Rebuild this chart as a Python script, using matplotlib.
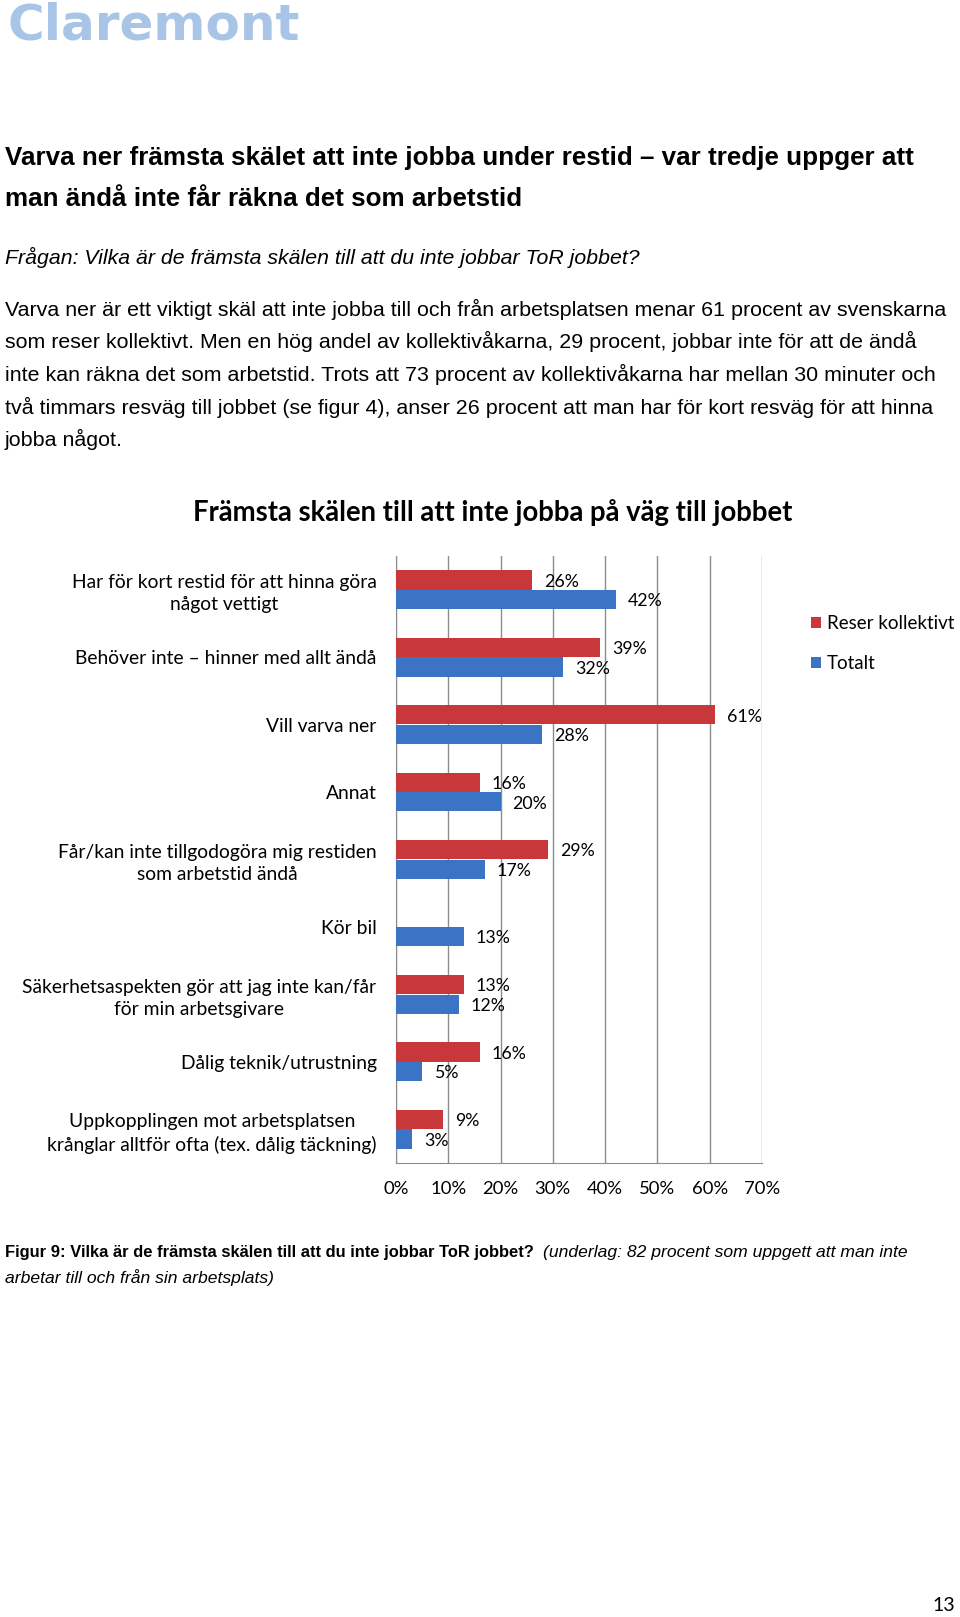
import numpy as np
import matplotlib.pyplot as plt

# Data
kategorier = [
    "Har för kort restid för att hinna göra\nnågot vettigt",
    "Behöver inte – hinner med allt ändå",
    "Vill varva ner",
    "Annat",
    "Får/kan inte tillgodogöra mig restiden\nsom arbetstid ändå",
    "Kör bil",
    "Säkerhetsaspekten gör att jag inte kan/får\nför min arbetsgivare",
    "Dålig teknik/utrustning",
    "Uppkopplingen mot arbetsplatsen\nkrånglar alltför ofta (tex. dålig täckning)",
]
reser_kollektivt = [26, 39, 61, 16, 29, np.nan, 13, 16, 9]
totalt = [42, 32, 28, 20, 17, 13, 12, 5, 3]
serier = ["Reser kollektivt", "Totalt"]
x_ticks = [0, 10, 20, 30, 40, 50, 60, 70]

RED = "#C8383B"
BLUE = "#3B74C5"
CHART_FONT = ["Lato", "DejaVu Sans"]
DOC_FONT = ["Liberation Sans", "DejaVu Sans"]

W, H = 960, 1617
fig = plt.figure(figsize=(W / 100, H / 100), dpi=100)


def fx(x):
    return x / W


def fy(y):
    return 1 - y / H


# Logo
fig.text(fx(7), fy(40), "Claremont", fontsize=36, fontweight="bold",
         color="#A8C5E8", family="DejaVu Sans", va="baseline", ha="left")

# Rubrik och brödtext
fig.text(fx(5), fy(158), "Varva ner främsta skälet att inte jobba under restid – var tredje uppger att",
         fontsize=18.7, fontweight="bold", family=DOC_FONT, va="center")
fig.text(fx(5), fy(199), "man ändå inte får räkna det som arbetstid",
         fontsize=18.7, fontweight="bold", family=DOC_FONT, va="center")
fig.text(fx(5), fy(257), "Frågan: Vilka är de främsta skälen till att du inte jobbar ToR jobbet?",
         fontsize=15.3, style="italic", family=DOC_FONT, va="center")

stycke = [
    "Varva ner är ett viktigt skäl att inte jobba till och från arbetsplatsen menar 61 procent av svenskarna",
    "som reser kollektivt. Men en hög andel av kollektivåkarna, 29 procent, jobbar inte för att de ändå",
    "inte kan räkna det som arbetstid. Trots att 73 procent av kollektivåkarna har mellan 30 minuter och",
    "två timmars resväg till jobbet (se figur 4), anser 26 procent att man har för kort resväg för att hinna",
    "jobba något.",
]
for i, rad in enumerate(stycke):
    fig.text(fx(5), fy(309 + i * 32.7), rad, fontsize=15.4, family=DOC_FONT, va="center")

# Diagram
fig.text(fx(493), fy(513), "Främsta skälen till att inte jobba på väg till jobbet",
         fontsize=19.8, fontweight="bold", family=CHART_FONT, ha="center", va="center")

ax = fig.add_axes([fx(396), fy(1163), fx(762) - fx(396), (1163 - 556) / H])
y = np.arange(len(kategorier))
h = 0.285
b1 = ax.barh(y - 0.145, reser_kollektivt, height=h, color=RED, label=serier[0], zorder=3)
b2 = ax.barh(y + 0.145, totalt, height=h, color=BLUE, label=serier[1], zorder=3)

off = 2.3
for yi, v in zip(y, reser_kollektivt):
    if not np.isnan(v):
        ax.text(v + off, yi - 0.12, f"{v:.0f}%", va="center", ha="left",
                fontsize=12.8, family=CHART_FONT, zorder=4)
for yi, v in zip(y, totalt):
    ax.text(v + off, yi + 0.17, f"{v:.0f}%", va="center", ha="left",
            fontsize=12.8, family=CHART_FONT, zorder=4)

ax.set_xlim(0, 70)
ax.set_ylim(len(kategorier) - 0.5, -0.5)
ax.set_xticks(x_ticks)
ax.set_xticklabels([f"{t}%" for t in x_ticks], fontsize=13.3, family=CHART_FONT)
ax.set_yticks(y)
ax.set_yticklabels(kategorier, fontsize=13.9, family=CHART_FONT)
for lbl in ax.get_yticklabels():
    lbl.set_multialignment("center")
    lbl.set_linespacing(1.35)
ax.tick_params(axis="y", length=0, pad=14)
ax.tick_params(axis="x", length=0, pad=13)
ax.grid(axis="x", color="#8C8C8C", linewidth=1, zorder=0)
for s in ["top", "right"]:
    ax.spines[s].set_visible(False)
ax.spines["left"].set_color("#8C8C8C")
ax.spines["bottom"].set_color("#8C8C8C")

fig.legend(handles=[b1, b2], labels=serier, loc="upper left",
           bbox_to_anchor=(fx(794), fy(598)), frameon=False,
           prop={"family": CHART_FONT, "size": 13.5},
           handlelength=0.55, handleheight=0.55, handletextpad=0.3, labelspacing=1.25)

# Figurtext
fig.text(fx(5), fy(1253), "Figur 9: Vilka är de främsta skälen till att du inte jobbar ToR jobbet?",
         fontsize=11.9, fontweight="bold", family=DOC_FONT, va="center")
fig.text(fx(543), fy(1253), "(underlag: 82 procent som uppgett att man inte",
         fontsize=12.6, style="italic", family=DOC_FONT, va="center")
fig.text(fx(5), fy(1278), "arbetar till och från sin arbetsplats)",
         fontsize=12.6, style="italic", family=DOC_FONT, va="center")

fig.text(fx(944), fy(1605), "13", fontsize=14, family=CHART_FONT, ha="center", va="center")

fig.savefig("out.png", dpi=100)
